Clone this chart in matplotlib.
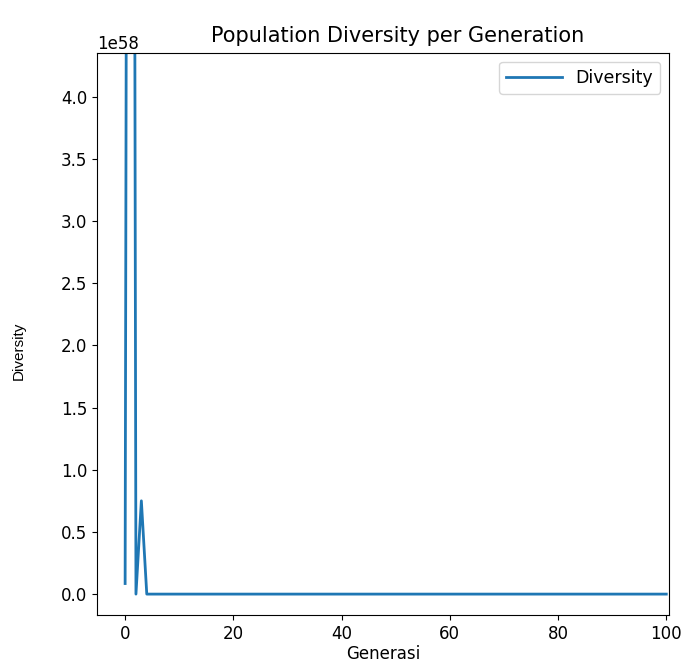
import numpy as np
import matplotlib.pyplot as plt
from matplotlib.ticker import MultipleLocator

# diversity per generation (units of 1e58), generations 0..100
generations = list(range(0, 101))
diversity_head = [0.085e58, 22.0e58, 0.0, 0.75e58, 0.0]
diversity = diversity_head + [0.0] * (len(generations) - len(diversity_head))

fig, ax = plt.subplots(figsize=(6.83, 6.64), dpi=100)

ax.plot(generations, diversity, label='Diversity', color='#1f77b4', lw=2)

ax.set_xlim(-5.2, 100.5)
ax.set_ylim(-0.168e58, 4.35e58)
ax.yaxis.set_major_locator(MultipleLocator(0.5e58))
ax.set_title('Population Diversity per Generation', fontsize=15, x=0.525, pad=8)
ax.set_xlabel('Generasi', fontsize=12, labelpad=2)
ax.set_ylabel('Diversity', fontsize=11, labelpad=16, family='Liberation Sans')
ax.yaxis.set_label_coords(-0.125, 0.47)
ax.tick_params(labelsize=12)
ax.yaxis.get_offset_text().set_fontsize(12)
ax.legend(loc='upper right', fontsize=12.5, handlelength=3.2)

fig.subplots_adjust(left=0.142, right=0.9795, top=0.920, bottom=0.0738)
fig.savefig('out.png')
